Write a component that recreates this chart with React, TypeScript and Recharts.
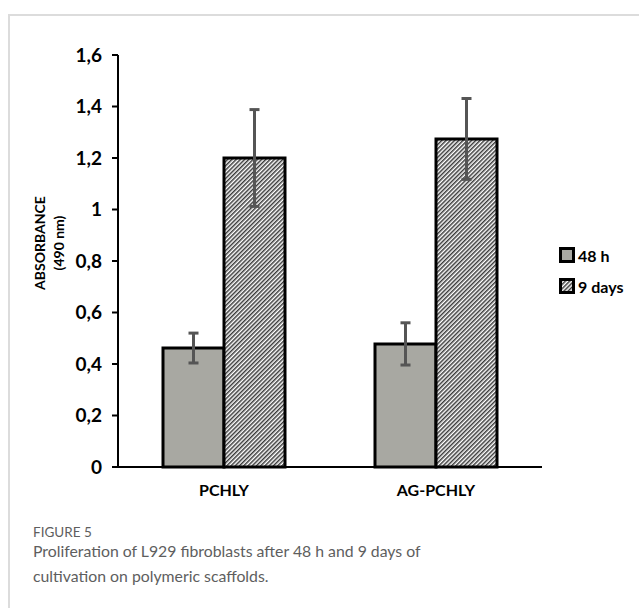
import { Bar, BarChart, ErrorBar, XAxis, YAxis } from "recharts";

const categories = ["PCHLY", "AG-PCHLY"];
const hours48 = [0.462, 0.478];
const hours48Err = [0.058, 0.082];
const days9 = [1.2, 1.274];
const days9Err = [0.188, 0.157];
const yTicks = [0, 0.2, 0.4, 0.6, 0.8, 1, 1.2, 1.4, 1.6];

const data = categories.map((name, i) => ({
  name,
  h48: hours48[i],
  h48Err: hours48Err[i],
  d9: days9[i],
  d9Err: days9Err[i],
}));

const GRAY = "#a8a8a2";
const tickFont = { fontFamily: "Lato, 'Open Sans', sans-serif", fontWeight: 700 };

/* ---------- rotated two-line y label ---------- */
function YLabel({ viewBox }: any) {
  const cy = viewBox.y + viewBox.height / 2 - 18;
  return (
    <g>
      <text
        x={45}
        y={cy}
        transform={`rotate(-90, 45, ${cy})`}
        textAnchor="middle"
        fontSize={14}
        fill="#000"
        style={tickFont}
      >
        ABSORBANCE
      </text>
      <text
        x={64}
        y={cy}
        transform={`rotate(-90, 64, ${cy})`}
        textAnchor="middle"
        fontSize={14}
        fill="#000"
        style={tickFont}
      >
        (490 nm)
      </text>
    </g>
  );
}

function LegendBox() {
  const items = [
    { label: "48 h", fill: GRAY },
    { label: "9 days", fill: "url(#hatch)" },
  ];
  return (
    <div style={{ ...tickFont, fontSize: 16 }}>
      {items.map((it) => (
        <div key={it.label} style={{ display: "flex", alignItems: "center", height: 31 }}>
          <svg width={17} height={17} style={{ marginRight: 2 }}>
            <rect x={1.5} y={1.5} width={13} height={13} fill={it.fill} stroke="#000" strokeWidth={3} />
          </svg>
          <span>{it.label}</span>
        </div>
      ))}
    </div>
  );
}

export default function App() {
  return (
    <div style={{ position: "absolute", left: 0, top: 0, width: 639, height: 608, background: "#fff" }}>
      {/* figure frame */}
      <div
        style={{
          position: "absolute",
          left: 8,
          top: 14,
          width: 631,
          height: 594,
          borderLeft: "2px solid #dcdcdc",
          borderTop: "2px solid #dcdcdc",
        }}
      />
      <div style={{ position: "absolute", left: 0, top: 0 }}>
        <BarChart
          width={639}
          height={500}
          data={data}
          margin={{ top: 55, right: 97, left: 0, bottom: 0 }}
          barGap={0}
        >
          <defs>
            <pattern id="hatch" width={3} height={3} patternUnits="userSpaceOnUse" patternTransform="rotate(45)">
              <rect width={3} height={3} fill="#fff" />
              <line x1={0.75} y1={0} x2={0.75} y2={3} stroke="#3a3a3a" strokeWidth={1.5} />
            </pattern>
          </defs>
          <XAxis
            dataKey="name"
            axisLine={{ stroke: "#000", strokeWidth: 2 }}
            tickLine={false}
            tick={{ fill: "#000", fontSize: 16, ...tickFont }}
            tickMargin={12}
            height={33}
          />
          <YAxis
            domain={[0, 1.6]}
            ticks={yTicks}
            width={118}
            axisLine={{ stroke: "#000", strokeWidth: 2 }}
            tickLine={{ stroke: "#000", strokeWidth: 2 }}
            tickSize={6}
            tick={{ fill: "#000", fontSize: 19, ...tickFont }}
            tickMargin={10}
            tickFormatter={(v) => String(Number(v.toFixed(1))).replace(".", ",")}
            interval={0}
            label={<YLabel />}
          />
          <Bar dataKey="h48" name="48 h" fill={GRAY} stroke="#000" strokeWidth={3} barSize={61} isAnimationActive={false}>
            <ErrorBar dataKey="h48Err" stroke="#555" strokeWidth={3} width={5} />
          </Bar>
          <Bar dataKey="d9" name="9 days" fill="url(#hatch)" stroke="#000" strokeWidth={3} barSize={61} isAnimationActive={false}>
            <ErrorBar dataKey="d9Err" stroke="#555" strokeWidth={3} width={5} />
          </Bar>
        </BarChart>
      </div>
      <div style={{ position: "absolute", left: 559, top: 240, width: 80 }}>
        <LegendBox />
      </div>
      {/* caption */}
      <svg
        width={639}
        height={100}
        style={{ position: "absolute", left: 0, top: 508 }}
        fontFamily="Lato, 'Noto Sans', sans-serif"
        fill="#5e5e5e"
      >
        <text x={33} y={29} fontSize={13.5}>FIGURE 5</text>
        <text x={33} y={49} fontSize={15.8}>
          Proliferation of L929 fibroblasts after 48 h and 9 days of
        </text>
        <text x={33} y={74} fontSize={15.8}>
          cultivation on polymeric scaffolds.
        </text>
      </svg>
    </div>
  );
}
